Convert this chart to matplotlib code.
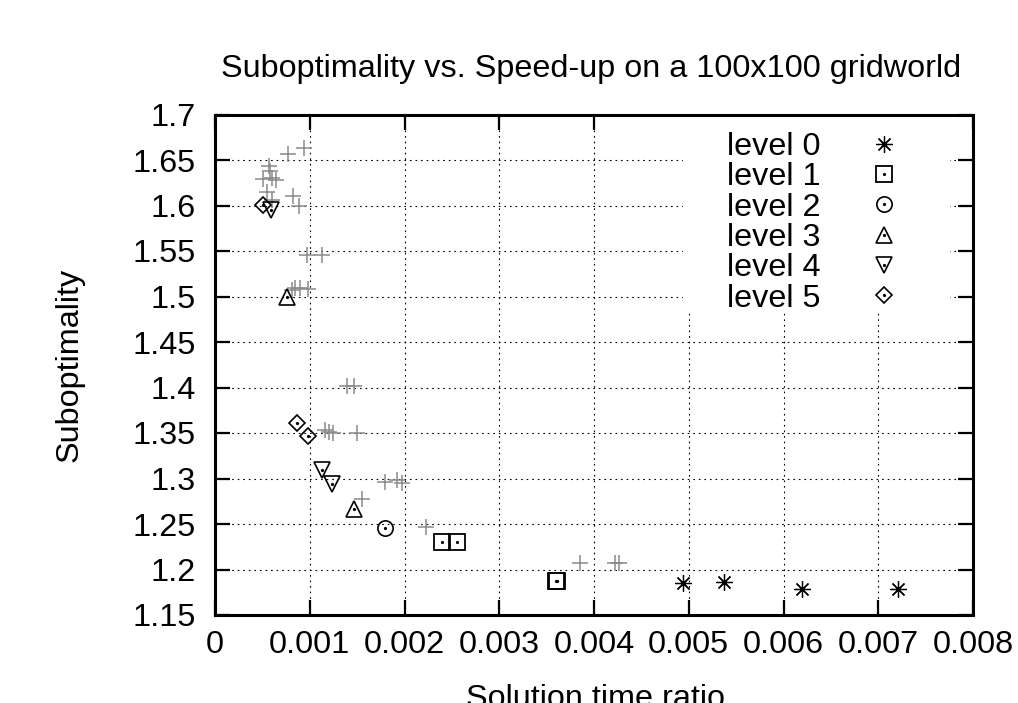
import matplotlib
matplotlib.use("Agg")
import matplotlib.pyplot as plt
from matplotlib.ticker import FixedLocator, FixedFormatter
from matplotlib.patches import Rectangle
from matplotlib.legend_handler import HandlerTuple

plt.rcParams['font.family'] = ['Liberation Sans', 'DejaVu Sans']

# ---------------- data ----------------
level0_x = [0.00494, 0.00537, 0.00619, 0.00721]
level0_y = [1.1855, 1.186, 1.179, 1.179]
level1_x = [0.00240, 0.00255, 0.00360, 0.00361]
level1_y = [1.2306, 1.2306, 1.1874, 1.1874]
level2_x = [0.00179]
level2_y = [1.2453]
level3_x = [0.000757, 0.001467]
level3_y = [1.500, 1.267]
level4_x = [0.000588, 0.001126, 0.00124]
level4_y = [1.595, 1.309, 1.294]
level5_x = [0.000503, 0.000862, 0.000985]
level5_y = [1.601, 1.361, 1.347]

other_x = [0.000943, 0.000767, 0.00057, 0.00058, 0.00051, 0.000598, 0.000644,
           0.000545, 0.000598, 0.00082, 0.00089,
           0.000974, 0.001126,
           0.00081, 0.00084, 0.0009, 0.00098,
           0.00139, 0.00147,
           0.00116, 0.0012, 0.00125, 0.0015,
           0.00179, 0.00192, 0.00197,
           0.00155, 0.00223, 0.003852, 0.00422, 0.00426]
other_y = [1.663, 1.657, 1.643, 1.638, 1.629, 1.630, 1.628,
           1.615, 1.606, 1.610, 1.600,
           1.546, 1.546,
           1.507, 1.509, 1.509, 1.508,
           1.402, 1.402,
           1.353, 1.351, 1.350, 1.350,
           1.296, 1.298, 1.295,
           1.277, 1.247, 1.2068, 1.207, 1.207]

x_ticks = [0, 0.001, 0.002, 0.003, 0.004, 0.005, 0.006, 0.007, 0.008]
x_labels = ["0", "0.001", "0.002", "0.003", "0.004", "0.005", "0.006", "0.007", "0.008"]
y_ticks = [1.15, 1.2, 1.25, 1.3, 1.35, 1.4, 1.45, 1.5, 1.55, 1.6, 1.65, 1.7]
y_labels = ["1.15", "1.2", "1.25", "1.3", "1.35", "1.4", "1.45", "1.5", "1.55", "1.6", "1.65", "1.7"]

title = "Suboptimality vs. Speed-up on a 100x100 gridworld"
xlabel = "Solution time ratio"
ylabel = "Suboptimality"

# ---------------- figure ----------------
W, H = 1018, 703
fig = plt.figure(figsize=(W / 100, H / 100), dpi=100)
ax = fig.add_axes([215 / W, 1 - 615 / H, (973 - 215) / W, (615 - 114.5) / H])

FS = 23.3

ax.plot(other_x, other_y, linestyle='none', marker='+', markersize=12,
        markeredgewidth=1.1, color='#8a8a8a', zorder=3)

series = [
    (level0_x, level0_y, "level 0", (8, 2, 0), 12, 0.9),
    (level1_x, level1_y, "level 1", 's', 11, 1.3),
    (level2_x, level2_y, "level 2", 'o', 11, 1.2),
    (level3_x, level3_y, "level 3", '^', 11.5, 1.2),
    (level4_x, level4_y, "level 4", 'v', 11.5, 1.2),
    (level5_x, level5_y, "level 5", 'D', 8.2, 1.2),
]
handles = []
labels = []
for xs, ys, lab, mk, ms, mew in series:
    h, = ax.plot(xs, ys, linestyle='none', marker=mk, markersize=ms,
                 markerfacecolor='none', markeredgecolor='black',
                 markeredgewidth=mew, color='black', zorder=4)
    d, = ax.plot(xs, ys, linestyle='none', marker='o', markersize=1.3,
                 color='black', zorder=5)
    handles.append((h, d))
    labels.append(lab)

ax.set_xlim(0, 0.008)
ax.set_ylim(1.15, 1.7)
ax.xaxis.set_major_locator(FixedLocator(x_ticks))
ax.xaxis.set_major_formatter(FixedFormatter(x_labels))
ax.yaxis.set_major_locator(FixedLocator(y_ticks))
ax.yaxis.set_major_formatter(FixedFormatter(y_labels))

ax.tick_params(axis='both', which='major', direction='in', length=11, width=1.6,
               labelsize=FS, top=True, right=True, color='black')
ax.tick_params(axis='x', pad=11)
ax.tick_params(axis='y', pad=14)
for s in ax.spines.values():
    s.set_linewidth(2.2)
    s.set_color('black')

ax.grid(True, color='black', linestyle=(0, (1.5, 3.5)), linewidth=0.8)
ax.set_axisbelow(True)

# opaque key background (hides the grid behind the key)
ax.add_patch(Rectangle((0.617, 0.605), 0.353, 0.39, transform=ax.transAxes,
                       facecolor='white', edgecolor='none', zorder=2))

leg = ax.legend(handles, labels, loc='upper left',
                bbox_to_anchor=(727 / W, 1 - 132 / H),
                bbox_transform=fig.transFigure, frameon=False,
                fontsize=FS, markerfirst=False, labelspacing=0.01,
                handletextpad=1.23, handlelength=1.47, borderpad=0,
                borderaxespad=0,
                handler_map={tuple: HandlerTuple(ndivide=1, pad=0)})
leg.set_zorder(10)

fig.text(591 / W, 1 - 77 / H, title, ha='center', va='baseline', fontsize=FS)
fig.text(595 / W, 1 - 707 / H, xlabel, ha='center', va='baseline', fontsize=FS)
fig.text(70 / W, 1 - 365 / H, ylabel, ha='center', va='center', rotation=90,
         fontsize=FS)

fig.savefig("out.png", dpi=100)
